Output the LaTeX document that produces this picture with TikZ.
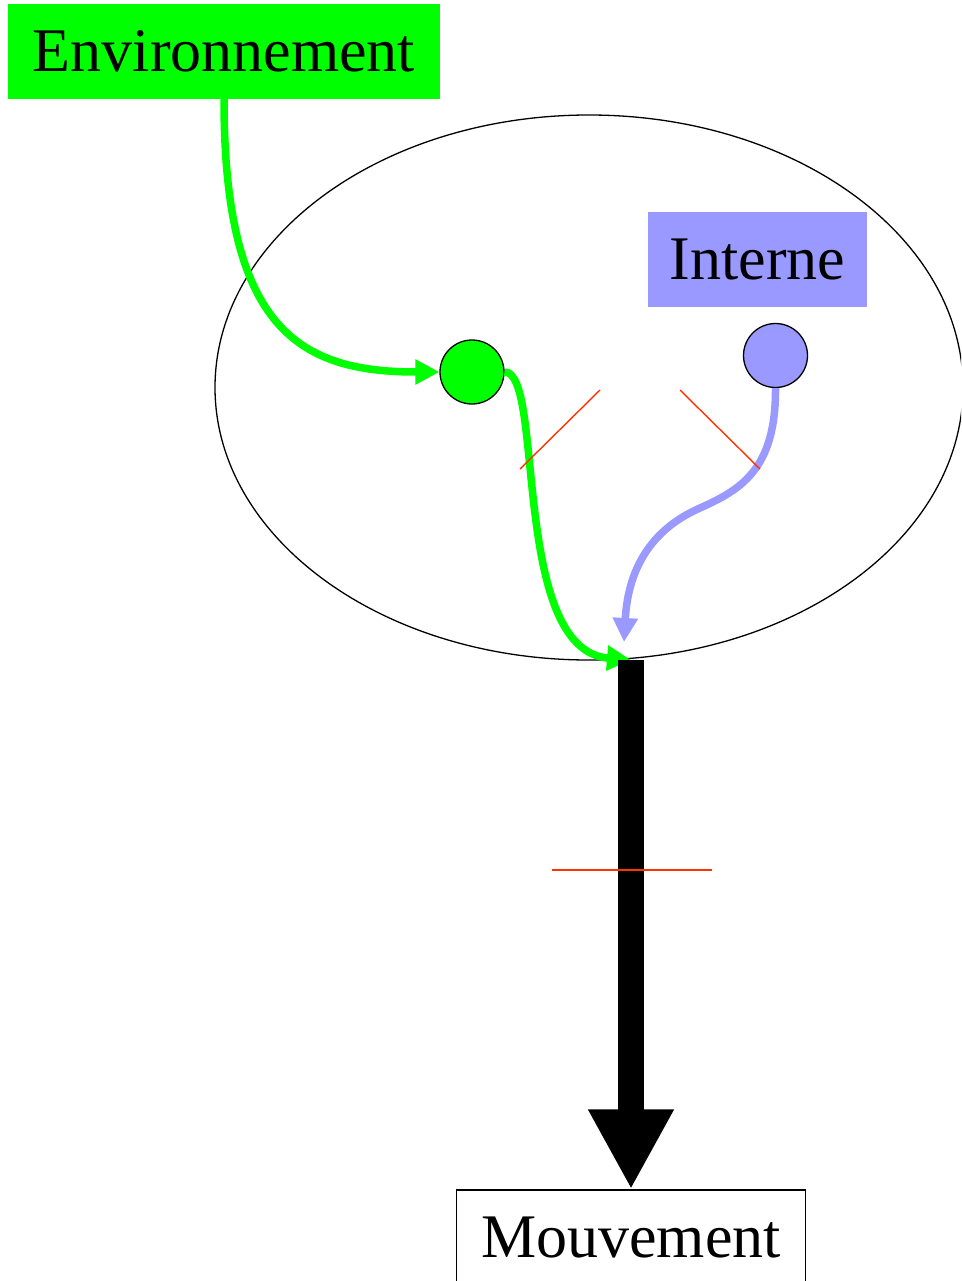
\documentclass[tikz,border=0pt]{standalone}
\usepackage{fontspec}
\setmainfont{Liberation Serif}
\usepackage{tikz}
\usetikzlibrary{arrows.meta, positioning, shapes.geometric}
\definecolor{vert}{HTML}{00FF00}
\definecolor{bleu}{HTML}{9999FF}
\definecolor{rouge}{HTML}{FF3300}
\tikzset{
  boite/.style={rectangle, inner sep=0pt, font=\fontsize{62}{70}\selectfont,
    minimum height=95pt},
  rond/.style={circle, draw=black, line width=1.3pt, minimum size=64pt, inner sep=0pt},
  fleche/.style={-{Triangle[length=24pt, width=24pt]}, line width=7.5pt},
  grosse/.style={-{Triangle[length=80pt, width=80pt]}, line width=26pt},
  inhibition/.style={draw=rouge, line width=1.4pt}
}

\begin{document}
\begin{tikzpicture}[x=1pt, y=-1pt]
    \useasboundingbox (0,0) rectangle (961,1281);
    \clip (0,0) rectangle (961,1281);

    % Systeme
    \node[ellipse, draw, line width=1.3pt, minimum width=748pt, minimum height=545pt,
          inner sep=0pt] (systeme) at (589,387.5) {};

    % Boites
    \node[boite, fill=vert, minimum width=432pt] (env) at (224,51.5) {Environnement};
    \node[boite, fill=bleu, minimum width=219pt] (interne) at (757.5,259.5) {Interne};
    \node[boite, draw, line width=1.3pt, fill=white, minimum width=349pt] (mouvement)
          at (631,1237.5) {Mouvement};

    % Entrees
    \node[rond, fill=vert] (capteur) at (472,372) {};
    \node[rond, fill=bleu] (etat) at (775.5,355.5) {};
    \coordinate (jonction) at (631,660);
    \coordinate (arrivee) at (624,642);

    % Fleches
    \draw[fleche, vert] (env.south) .. controls (224,330) and (300,372) .. (capteur.west);
    \draw[fleche, vert] (capteur.east) .. controls (545,372) and (510,650) .. (jonction);
    \draw[fleche, bleu] (etat.south) .. controls (776,470) and (740,490) .. (700,508)
          .. controls (650,530) and (628,570) .. (arrivee);
    \draw[grosse] (jonction) -- (mouvement.north);

    % Traits rouges
    \draw[inhibition] (520,469) -- (600,390);
    \draw[inhibition] (680,390) -- (760,469);
    \draw[inhibition] (552,870) -- (712,870);
\end{tikzpicture}
\end{document}
